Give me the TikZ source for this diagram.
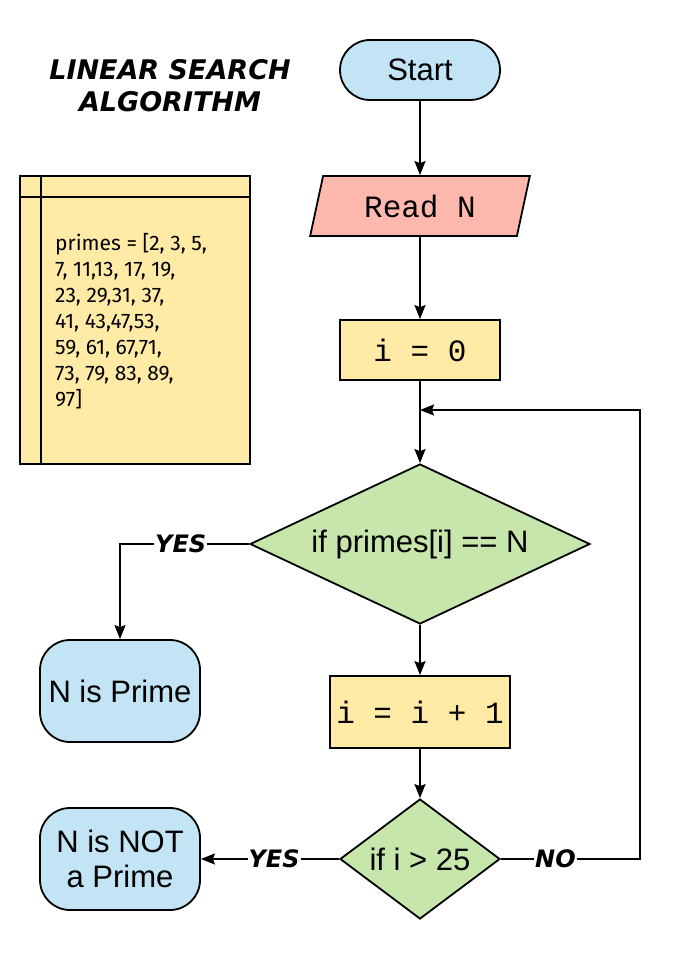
\documentclass[tikz,border=0pt]{standalone}
\usepackage{fontspec}
\setmainfont{Liberation Sans}
\setmonofont{Liberation Mono}
\newfontfamily\comicfont{DejaVu Sans}
\newfontfamily\notefont{Fira Sans}
\usetikzlibrary{shapes.geometric,arrows.meta}
\definecolor{termblue}{HTML}{C2E4F5}
\definecolor{procyellow}{HTML}{FFEBA6}
\definecolor{readred}{HTML}{FFB8AE}
\definecolor{decgreen}{HTML}{C6E6AB}
\begin{document}
\begin{tikzpicture}[x=1pt,y=-1pt,
        every node/.style={font=\fontsize{31}{35}\selectfont},
        term/.style={draw,line width=1.8pt,fill=termblue,rectangle,rounded corners=30pt,minimum width=160pt,align=center},
        proc/.style={draw,line width=1.8pt,fill=procyellow,minimum height=60pt,font=\ttfamily\fontsize{31}{35}\selectfont},
        io/.style={draw,line width=1.8pt,fill=readred,trapezium,trapezium left angle=75,trapezium right angle=105,trapezium stretches=true,minimum width=220pt,minimum height=60pt,font=\ttfamily\fontsize{31}{35}\selectfont},
        dec/.style={draw,line width=1.8pt,fill=decgreen,diamond,inner sep=0pt},
        arr/.style={-{Stealth[length=14pt,width=11pt,inset=2pt]},line width=1.8pt},
        lbl/.style={fill=white,inner sep=1pt,font=\comicfont\bfseries\itshape\fontsize{24}{28}\selectfont}]
    \useasboundingbox (0,0) rectangle (681,960);
    \node[align=center,font=\comicfont\bfseries\itshape\fontsize{27}{32}\selectfont] (title) at (170,86) {LINEAR SEARCH\\ALGORITHM};
    \node[draw,line width=1.8pt,fill=procyellow,minimum width=230pt,minimum height=288pt] (note) at (135,320) {};
    \draw[line width=1.8pt] ([xshift=22pt]note.north west) -- ([xshift=22pt]note.south west);
    \draw[line width=1.8pt] ([yshift=-22pt]note.north west) -- ([yshift=-22pt]note.north east);
    \node[anchor=north west,inner sep=0pt,align=left,font=\notefont\fontsize{21}{26}\selectfont] (primes) at (55,233) {primes = [2, 3, 5,\\7, 11,13, 17, 19,\\23, 29,31, 37,\\41, 43,47,53,\\59, 61, 67,71,\\73, 79, 83, 89,\\97]};
    \node[term,minimum height=60pt] (start) at (420,70) {Start};
    \node[io] (read) at (420,206) {Read N};
    \node[proc,minimum width=160pt] (init) at (420,350) {i = 0};
    \node[dec,minimum width=340pt,minimum height=160pt,aspect=2] (check) at (420,544) {if primes[i] == N};
    \node[proc,minimum width=180pt,minimum height=72pt] (inc) at (420,712) {i = i + 1};
    \node[dec,minimum width=160pt,minimum height=120pt,aspect=1.33] (limit) at (420,859) {if i > 25};
    \node[term,minimum height=102pt] (prime) at (120,691) {N is Prime};
    \node[term,minimum height=102pt] (notprime) at (120,859) {N is NOT\\a Prime};
    \coordinate (back) at (420,410);
    \coordinate (corner) at (640,410);
    \draw[arr] (start) -- (read);
    \draw[arr] (read) -- (init);
    \draw[arr] (init) -- (check);
    \draw[arr] (check) -- (inc);
    \draw[arr] (inc) -- (limit);
    \draw[arr] (check.west) -| node[lbl,pos=0.265] {YES} (prime.north);
    \draw[arr] (limit.west) -- node[lbl,pos=0.47] {YES} (notprime.east);
    \draw[arr] (limit.east) -| node[lbl,pos=0.196] {NO} (corner) -- (back);
\end{tikzpicture}
\end{document}
